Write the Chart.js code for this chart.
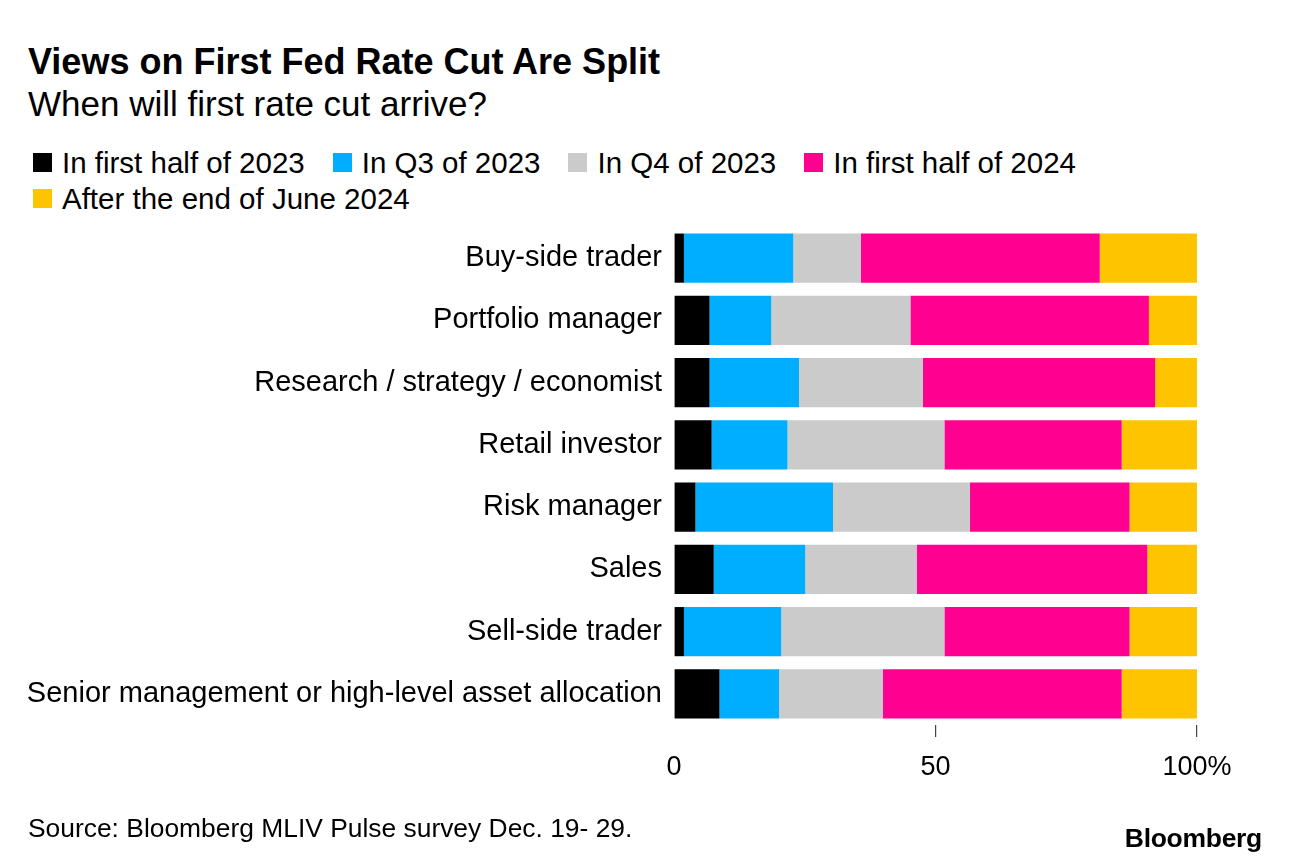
<!DOCTYPE html>
<html>
<head>
<meta charset="utf-8">
<script src="https://cdn.jsdelivr.net/npm/chart.js@4.4.1/dist/chart.umd.min.js"></script>
<style>
  html, body { margin: 0; padding: 0; background: #fff; }
  body { width: 1290px; height: 864px; position: relative; overflow: hidden;
         font-family: "Liberation Sans", Arial, sans-serif; color: #000; }
  .txt { position: absolute; white-space: nowrap; line-height: 1; }
  #title { left: 28px; top: 44px; font-size: 36px; font-weight: bold; }
  #subtitle { left: 28px; top: 86px; font-size: 35px; }
  .legendRow { position: absolute; left: 33px; display: flex; align-items: center;
               font-size: 29.5px; line-height: 1; white-space: nowrap; }
  .legendItem { display: flex; align-items: center; margin-right: 28px; }
  .swatch { width: 19px; height: 19px; margin-right: 10px; }
  #source { left: 28px; top: 815px; font-size: 26.4px; }
  #logo { right: 28px; top: 825px; font-size: 26.5px; font-weight: bold; letter-spacing: -0.3px; }
  #chart { position: absolute; left: 0; top: 0; }
</style>
</head>
<body>
<div id="title" class="txt">Views on First Fed Rate Cut Are Split</div>
<div id="subtitle" class="txt">When will first rate cut arrive?</div>
<div id="legend1" class="legendRow" style="top:148px"></div>
<div id="legend2" class="legendRow" style="top:184px"></div>
<canvas id="chart" width="1290" height="864"></canvas>
<div id="source" class="txt">Source: Bloomberg MLIV Pulse survey Dec. 19- 29.</div>
<div id="logo" class="txt">Bloomberg</div>

<script>
// Survey roles (rows, top to bottom)
let categories = [
  "Buy-side trader",
  "Portfolio manager",
  "Research / strategy / economist",
  "Retail investor",
  "Risk manager",
  "Sales",
  "Sell-side trader",
  "Senior management or high-level asset allocation"
];

let seriesNames = ["In first half of 2023", "In Q3 of 2023", "In Q4 of 2023", "In first half of 2024", "After the end of June 2024"];
let seriesColors = ["#000000", "#00aeff", "#cbcbcb", "#ff0090", "#ffc400"];

// shares in %
let firstHalf2023 = [1.9, 6.8, 6.8, 7.2, 4.1, 7.6, 1.9, 8.7];
let q3of2023      = [20.9, 11.8, 17.1, 14.5, 26.3, 17.5, 18.6, 11.4];
let q4of2023      = [12.9, 26.6, 23.7, 30.0, 26.2, 21.3, 31.2, 19.8];
let firstHalf2024 = [45.7, 45.6, 44.4, 33.9, 30.5, 44.1, 35.4, 45.7];
let afterJune2024 = [18.6, 9.2, 8.0, 14.4, 12.9, 9.5, 12.9, 14.4];

let xTicks = [0, 50, 100];

let seriesData = [firstHalf2023, q3of2023, q4of2023, firstHalf2024, afterJune2024];

// legend (html, two rows like the original)
function addLegendItem(rowId, i) {
  let item = document.createElement("div");
  item.className = "legendItem";
  item.innerHTML = '<div class="swatch" style="background:' + seriesColors[i] + '"></div>' + seriesNames[i];
  document.getElementById(rowId).appendChild(item);
}
[0, 1, 2, 3].forEach(i => addLegendItem("legend1", i));
addLegendItem("legend2", 4);

let datasets = seriesData.map((d, i) => ({
  label: seriesNames[i],
  data: d,
  backgroundColor: seriesColors[i],
  borderWidth: 0,
  categoryPercentage: 1.0,
  barPercentage: 0.79
}));

new Chart(document.getElementById("chart").getContext("2d"), {
  type: "bar",
  data: { labels: categories, datasets: datasets },
  options: {
    indexAxis: "y",
    responsive: false,
    animation: false,
    layout: { padding: { top: 227, right: 93, bottom: 59, left: 0 } },
    plugins: { legend: { display: false }, tooltip: { enabled: false } },
    scales: {
      x: {
        stacked: true,
        min: 0,
        max: 100,
        afterBuildTicks: scale => { scale.ticks = xTicks.map(v => ({ value: v })); },
        afterFit: scale => { scale.height = 80; },
        ticks: {
          color: "#000",
          font: { size: 27, family: "Liberation Sans, Arial, sans-serif" },
          padding: 14,
          maxRotation: 0,
          callback: v => v === 100 ? "100%" : v
        },
        grid: {
          drawOnChartArea: false,
          drawTicks: true,
          tickLength: 12,
          lineWidth: 1.2,
          color: ctx => (ctx.tick && ctx.tick.value === 0) ? "rgba(0,0,0,0)" : "#444"
        },
        border: { display: false }
      },
      y: {
        stacked: true,
        afterFit: scale => { scale.width = 674; },
        ticks: {
          color: "#000",
          font: { size: 29, family: "Liberation Sans, Arial, sans-serif" },
          padding: 4
        },
        grid: { display: false },
        border: { display: false }
      }
    }
  }
});
</script>
</body>
</html>
